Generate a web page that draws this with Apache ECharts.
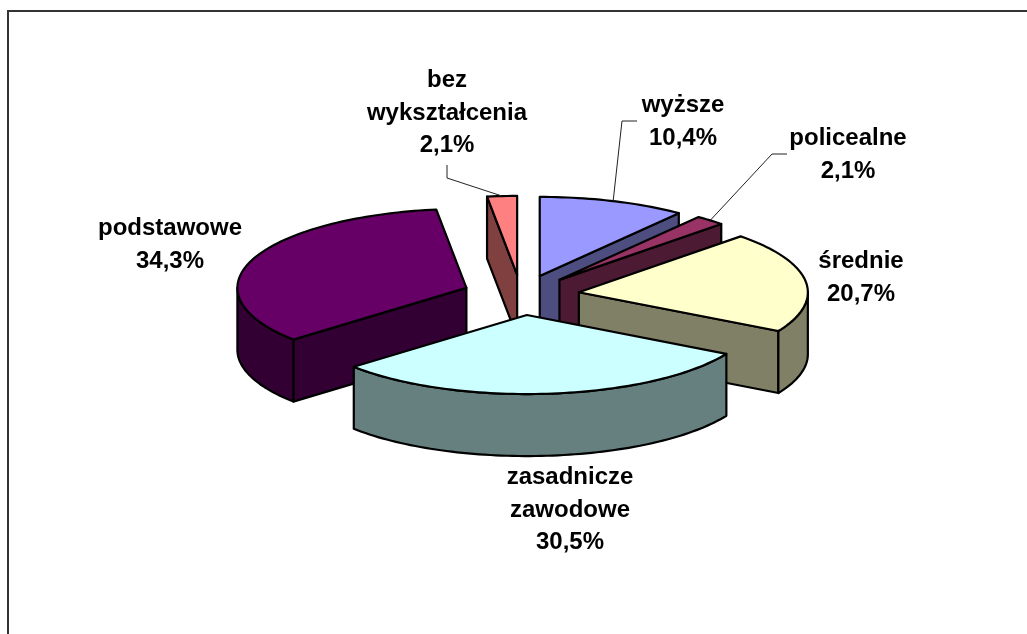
<!DOCTYPE html>
<html>
<head>
<meta charset="utf-8">
<style>
  html, body { margin: 0; padding: 0; background: #fff; }
  #chart { width: 1027px; height: 634px; }
</style>
<script src="https://cdn.jsdelivr.net/npm/echarts@6/dist/echarts.min.js"></script>
</head>
<body>
<div id="chart"></div>
<script>
// clockwise from 12 o'clock
var categories = ['wyższe', 'policealne', 'średnie', 'zasadnicze zawodowe', 'podstawowe', 'bez wykształcenia'];
var shares = [10.4, 2.1, 20.7, 30.5, 34.3, 2.1];
var labelLines = [['wyższe'], ['policealne'], ['średnie'], ['zasadnicze', 'zawodowe'], ['podstawowe'], ['bez', 'wykształcenia']];
var topColors = ['#9999FF', '#993366', '#FFFFCC', '#CCFFFF', '#660066', '#FF8080'];
var sideColors = ['#4D4D80', '#4D1A33', '#808066', '#668080', '#330033', '#804040'];

// label centres and leader elbows, in page pixels
var labelPlaces = [[683, 122], [848, 155], [861, 278], [570, 510], [170, 245], [447, 113]];
var leaderElbows = [[[622, 121], [637, 121]], [[772, 154], [787, 154]], null, null, null, [[447, 178], [447, 165]]];

var cx = 521, cy = 295, rx = 229, ry = 79, depth = 62, explode = 0.255;

var total = shares.reduce(function (a, b) { return a + b; }, 0);
var starts = [];
shares.reduce(function (acc, v, i) { starts[i] = acc; return acc + v; }, 0);

function rad(share) { return share / total * Math.PI * 2; }

function arc(ox, oy, a0, a1, dy) {
    var pts = [];
    var n = Math.max(2, Math.ceil((a1 - a0) * 40));
    for (var k = 0; k <= n; k++) {
        var a = a0 + (a1 - a0) * k / n;
        pts.push([ox + rx * Math.sin(a), oy - ry * Math.cos(a) + dy]);
    }
    return pts;
}

function face(points, fill, z2) {
    return {
        type: 'polygon',
        z2: z2,
        shape: { points: points },
        style: { fill: fill, stroke: '#000', lineWidth: 2.2, lineJoin: 'round' }
    };
}

function wall(ox, oy, a, fill, z2) {
    var p = arc(ox, oy, a, a, 0)[0];
    return face([[ox, oy], p, [p[0], p[1] + depth], [ox, oy + depth]], fill, z2);
}

function renderSlice(params, api) {
    var i = params.dataIndex;
    var s = rad(starts[i]);
    var e = s + rad(api.value(0));
    var m = (s + e) / 2;
    var ox = cx + explode * rx * Math.sin(m);
    var oy = cy - explode * ry * Math.cos(m);
    var z2 = Math.round(100 * (1 - Math.cos(m)));
    var kids = [];

    if (Math.sin(s) < 0) kids.push(wall(ox, oy, s, sideColors[i], z2));
    if (Math.sin(e) > 0) kids.push(wall(ox, oy, e, sideColors[i], z2));

    var f0 = Math.max(s, Math.PI / 2), f1 = Math.min(e, Math.PI * 1.5);
    if (f1 > f0) {
        kids.push(face(arc(ox, oy, f0, f1, 0).concat(arc(ox, oy, f0, f1, depth).reverse()), sideColors[i], z2));
    }
    kids.push(face([[ox, oy]].concat(arc(ox, oy, s, e, 0)), topColors[i], z2));

    if (leaderElbows[i]) {
        kids.push({
            type: 'polyline',
            z2: 300,
            shape: { points: [arc(ox, oy, m, m, 0)[0]].concat(leaderElbows[i]) },
            style: { fill: null, stroke: '#222', lineWidth: 1 }
        });
    }
    kids.push({
        type: 'text',
        z2: 400,
        style: {
            text: labelLines[i].concat(String(api.value(0)).replace('.', ',') + '%').join('\n'),
            x: labelPlaces[i][0],
            y: labelPlaces[i][1],
            align: 'center',
            verticalAlign: 'middle',
            lineHeight: 32.5,
            fill: '#000',
            font: 'bold 24px "Liberation Sans", Arial, sans-serif'
        }
    });
    return { type: 'group', children: kids };
}

var myChart = echarts.init(document.getElementById('chart'), null, { renderer: 'canvas' });
myChart.setOption({
    animation: false,
    backgroundColor: '#fff',
    graphic: [{
        type: 'polyline',
        shape: { points: [[8, 634], [8, 11], [1027, 11]] },
        style: { fill: null, stroke: '#333', lineWidth: 2 }
    }],
    series: [{
        type: 'custom',
        coordinateSystem: 'none',
        renderItem: renderSlice,
        data: categories.map(function (name, i) {
            return { name: name, value: [shares[i]] };
        })
    }]
});
</script>
</body>
</html>
